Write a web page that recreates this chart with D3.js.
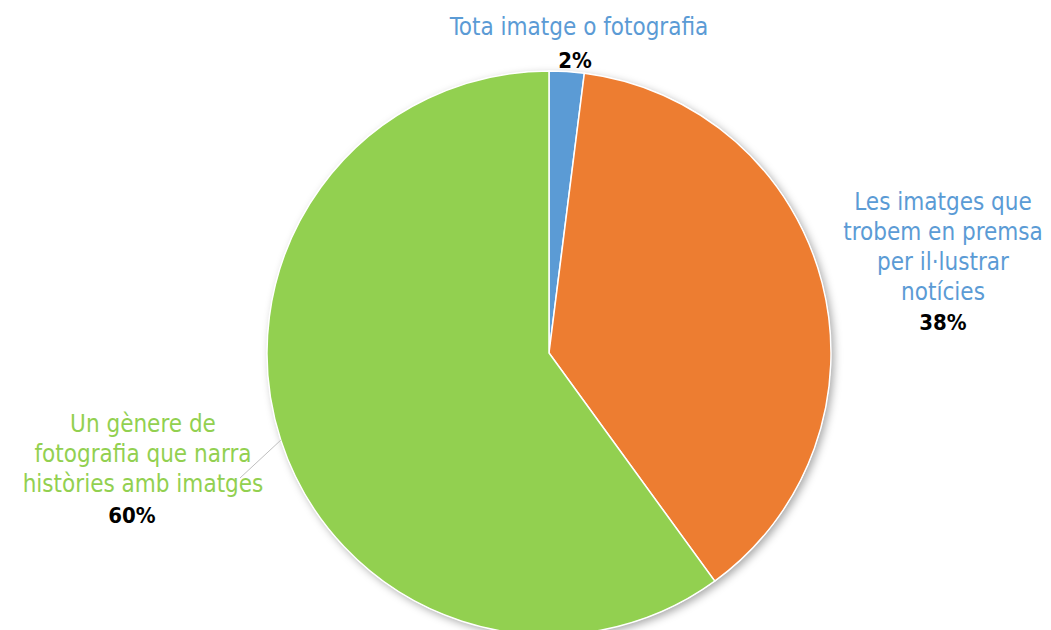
<!DOCTYPE html>
<html>
<head>
<meta charset="utf-8">
<script src="https://cdn.jsdelivr.net/npm/d3@7"></script>
<style>
  body { margin: 0; background: #fff; }
  text { font-family: "DejaVu Sans Condensed", "DejaVu Sans", sans-serif; }
</style>
</head>
<body>
<div class="PieChart"></div>
<script>
const categories = [
  "Tota imatge o fotografia",
  "Les imatges que trobem en premsa per il·lustrar notícies",
  "Un gènere de fotografia que narra històries amb imatges"
];
const values = [2, 38, 60];
const labelLines = [
  ["Tota imatge o fotografia"],
  ["Les imatges que", "trobem en premsa", "per il·lustrar", "notícies"],
  ["Un gènere de", "fotografia que narra", "històries amb imatges"]
];
const colors = ["#5B9BD5", "#ED7D31", "#92D050"];
const labelColors = ["#5B9BD5", "#5B9BD5", "#92D050"];

const width = 1051, height = 630;
const cx = 549, cy = 353, radius = 282;

const svg = d3.select(".PieChart")
  .append("svg")
  .attr("width", width)
  .attr("height", height);

// soft shadow under the pie
const defs = svg.append("defs");
const f = defs.append("filter").attr("id", "shadow")
  .attr("x", "-10%").attr("y", "-10%").attr("width", "120%").attr("height", "120%");
f.append("feDropShadow")
  .attr("dx", 3).attr("dy", 3).attr("stdDeviation", 4)
  .attr("flood-color", "#000").attr("flood-opacity", 0.35);

const g = svg.append("g").attr("transform", `translate(${cx},${cy})`);

const pie = d3.pie().sort(null).value(d => d)(values);
const arc = d3.arc().innerRadius(0).outerRadius(radius);

g.append("circle").attr("r", radius).attr("fill", "#fff").attr("filter", "url(#shadow)");

g.selectAll("path.slice")
  .data(pie)
  .enter()
  .append("path")
  .attr("class", "slice")
  .attr("d", arc)
  .attr("fill", (d, i) => colors[i])
  .attr("stroke", "#fff")
  .attr("stroke-width", 1.5);

// label placement: baseline of first line, centre x, offset of the % line
const labelPos = [
  { x: 579, y: 35, lh: 30, px: 575, pgap: 33 },
  { x: 943, y: 210, lh: 30, px: 943, pgap: 30 },
  { x: 143, y: 432, lh: 30, px: 132, pgap: 31 }
];

labelPos.forEach((p, i) => {
  const lines = labelLines[i];
  const t = svg.append("text")
    .attr("text-anchor", "middle")
    .attr("font-size", 24)
    .attr("fill", labelColors[i]);
  lines.forEach((ln, j) => {
    t.append("tspan").attr("x", p.x).attr("y", p.y + j * p.lh).text(ln);
  });
  svg.append("text")
    .attr("text-anchor", "middle")
    .attr("x", p.px)
    .attr("y", p.y + (lines.length - 1) * p.lh + p.pgap)
    .attr("font-size", 22)
    .attr("font-weight", "bold")
    .attr("fill", "#000")
    .text(values[i] + "%");
});

// leader line for the green slice
const green = pie[2];
const mid = (green.startAngle + green.endAngle) / 2;
const [px, py] = d3.pointRadial(mid, radius);
svg.append("line")
  .attr("x1", 240).attr("y1", 478)
  .attr("x2", cx + px).attr("y2", cy + py)
  .attr("stroke", "#bfbfbf")
  .attr("stroke-width", 1);
</script>
</body>
</html>
